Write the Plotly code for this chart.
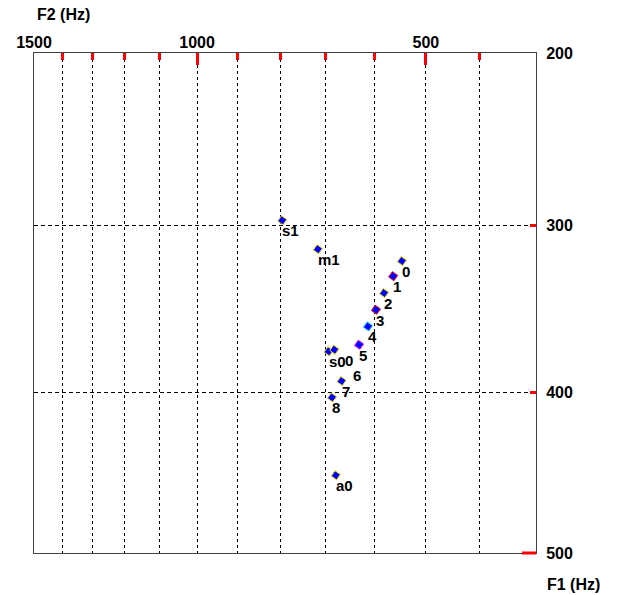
import math
import plotly.graph_objects as go

# ---- data (Hz) ----
labels = ["s1", "m1", "0", "1", "2", "3", "4", "5", "s0", "0", "6", "7", "8", "a0"]
f2_hz = [795, 717, 546, 563, 581, 597, 613, 631, 694, 682, 644, 667, 687, 679]
f1_hz = [297, 314, 321, 330, 340, 350, 360, 371, 375, 374, 383, 393, 403, 451]
marker_visible = [1, 1, 1, 1, 1, 1, 1, 1, 1, 1, 0, 1, 1, 1]
edge_colors = ["#e8d800", "#e8d800", "#e8d800", "#ff0000", "#e8d800", "#ff0000", "#00e0ff",
               "#ff00ff", "#e8d800", "#e8d800", "#e8d800", "#e8d800", "#e8d800", "#e8d800"]
label_nudge = {9: 11}  # extra x-shift (px) for the crowded second "0" label

f2_major = [1500, 1000, 500]
f2_minor = [1400, 1300, 1200, 1100, 900, 800, 700, 600, 400, 300]
f2_range = [1500, 300]
f1_ticks = [200, 300, 400, 500]
f1_range = [500, 200]


def bark(f):
    return 13 * math.atan(0.00076 * f) + 3.5 * math.atan((f / 7500.0) ** 2)


xs = [bark(v) for v in f2_hz]
ys = [bark(v) for v in f1_hz]

W, H = 617, 595
L, R, T, B = 34, 81, 53, 42
pw, ph = W - L - R, H - T - B

fig = go.Figure()
fig.add_trace(go.Scatter(
    x=xs, y=ys, mode="markers", hoverinfo="skip",
    marker=dict(symbol="square", size=6.5, angle=35, color="#0000ff",
                opacity=marker_visible,
                line=dict(color=edge_colors, width=1)),
))

font = dict(family="Liberation Sans, Arial, sans-serif", size=16, color="black", weight="bold")
lfont = dict(family="Liberation Sans, Arial, sans-serif", size=15, color="black", weight="bold")

ann = []
for i, (x, y, t) in enumerate(zip(xs, ys, labels)):
    ann.append(dict(x=x, y=y, xref="x", yref="y", text=t, showarrow=False,
                    xanchor="left", yanchor="middle", borderpad=0,
                    xshift=-1 + label_nudge.get(i, 0), yshift=-10.5, font=lfont))

ann.append(dict(x=(35 - L) / pw, y=1 + (T - 15) / ph, xref="paper", yref="paper",
                text="F2 (Hz)", showarrow=False, xanchor="left", yanchor="middle", font=font))
ann.append(dict(x=(545 - L) / pw, y=-(584 - (H - B)) / ph, xref="paper", yref="paper",
                text="F1 (Hz)", showarrow=False, xanchor="left", yanchor="middle", font=font))

fig.update_layout(
    width=W, height=H, margin=dict(l=L, r=R, t=T, b=B, pad=0),
    paper_bgcolor="white", plot_bgcolor="white", showlegend=False,
    annotations=ann,
    shapes=[dict(type="line", xref="paper", yref="paper", x0=1 - 14 / pw, x1=1, y0=0, y1=0,
                 line=dict(color="red", width=3))],
)

fig.update_xaxes(
    side="top", range=[bark(f2_range[0]), bark(f2_range[1])],
    tickmode="array", tickvals=[bark(v) for v in f2_major], ticktext=[str(v) for v in f2_major],
    ticks="inside", ticklen=12, tickwidth=3, tickcolor="red", tickfont=font,
    ticklabelstandoff=-2,
    showgrid=True, gridcolor="black", gridwidth=1, griddash="3px,3px",
    showline=True, linecolor="#404040", linewidth=1, mirror=True, zeroline=False,
    minor=dict(tickmode="array", tickvals=[bark(v) for v in f2_minor], ticks="inside",
               ticklen=7, tickwidth=3, tickcolor="red", showgrid=True, gridcolor="black",
               gridwidth=1, griddash="3px,3px"),
)
fig.update_yaxes(
    side="right", range=[bark(f1_range[0]), bark(f1_range[1])],
    tickmode="array", tickvals=[bark(v) for v in f1_ticks], ticktext=[str(v) for v in f1_ticks],
    ticks="inside", ticklen=6, tickwidth=3, tickcolor="red", tickfont=font,
    ticklabelstandoff=6,
    showgrid=True, gridcolor="black", gridwidth=1, griddash="4px,3px",
    showline=True, linecolor="#404040", linewidth=1, mirror=True, zeroline=False,
)

fig.write_html("out.html")
